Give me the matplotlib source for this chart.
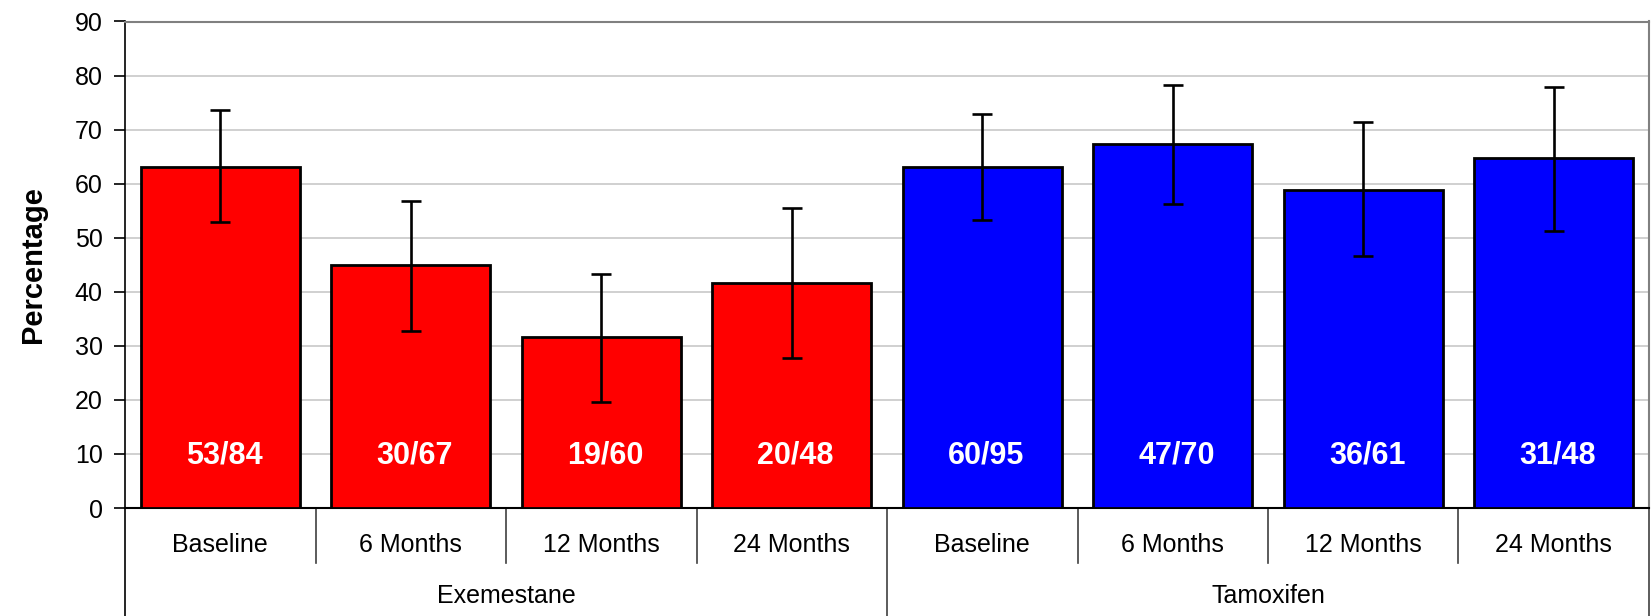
import matplotlib
matplotlib.use("Agg")
import matplotlib.pyplot as plt
import matplotlib.transforms as mtransforms
import numpy as np

plt.rcParams['font.family'] = ['Liberation Sans', 'DejaVu Sans']

groups = ["Exemestane", "Tamoxifen"]
timepoints = ["Baseline", "6 Months", "12 Months", "24 Months"]
exe_values = [63.1, 44.9, 31.6, 41.6]
exe_err_low = [53.0, 32.8, 19.7, 27.8]
exe_err_high = [73.6, 56.8, 43.3, 55.5]
exe_counts = ["53/84", "30/67", "19/60", "20/48"]
tam_values = [63.1, 67.3, 58.8, 64.7]
tam_err_low = [53.3, 56.3, 46.6, 51.3]
tam_err_high = [72.8, 78.3, 71.5, 77.8]
tam_counts = ["60/95", "47/70", "36/61", "31/48"]

values = exe_values + tam_values
lows = exe_err_low + tam_err_low
highs = exe_err_high + tam_err_high
counts = exe_counts + tam_counts
colors = ["#FF0000"] * 4 + ["#0000FF"] * 4
labels = timepoints * 2

fig = plt.figure(figsize=(16.52, 6.16), dpi=100)
ax = fig.add_axes([125/1652, 1 - 508/616, (1649-125)/1652, (508-21.5)/616])

x = np.arange(len(values))
v = np.array(values)
yerr = np.vstack([v - np.array(lows), np.array(highs) - v])
ax.bar(x, v, width=0.835, color=colors, edgecolor="black", linewidth=2.0, zorder=3)
ax.errorbar(x, v, yerr=yerr, fmt="none", ecolor="black", elinewidth=1.9,
            capsize=7.5, capthick=1.9, zorder=4)

for xi, c in zip(x, counts):
    ax.text(xi + 0.02, 9.7, c, color="white", fontsize=22, fontweight="bold",
            ha="center", va="center", zorder=5)

ax.set_xlim(-0.5, len(values) - 0.5)
ax.set_ylim(0, 90)
ax.set_yticks(np.arange(0, 91, 10))
ax.tick_params(axis="y", labelsize=18, length=8, width=1.2, direction="out", pad=8)
ax.set_xticks([])
ax.yaxis.grid(True, color="#c8c8c8", linewidth=1.2, zorder=0)
ax.set_axisbelow(True)
for s in ["top", "right"]:
    ax.spines[s].set_color("#808080")
    ax.spines[s].set_linewidth(1.5)
ax.spines["left"].set_color("black")
ax.spines["left"].set_linewidth(1.2)
ax.spines["bottom"].set_color("black")
ax.spines["bottom"].set_linewidth(1.5)

ax.set_ylabel("Percentage", fontsize=21, fontweight="bold", labelpad=20)

trans = mtransforms.blended_transform_factory(ax.transData, ax.transAxes)
# short separators between time points
for b in np.arange(0.5, len(values) - 0.5, 1.0):
    if b == 3.5:
        continue
    ax.plot([b, b], [0, -0.113], transform=trans, color="#404040", lw=1.2, clip_on=False)
# long separators between groups
for b in [-0.5, 3.5, len(values) - 0.5]:
    ax.plot([b, b], [0, -0.25], transform=trans, color="black" if b == -0.5 else "#404040",
            lw=1.2, clip_on=False)

for xi, lab in zip(x, labels):
    ax.text(xi, -0.076, lab, transform=trans, ha="center", va="center", fontsize=18)
for gi, g in enumerate(groups):
    ax.text(gi * 4 + 1.5, -0.181, g, transform=trans, ha="center", va="center", fontsize=18)

fig.savefig("out.png", dpi=100)
